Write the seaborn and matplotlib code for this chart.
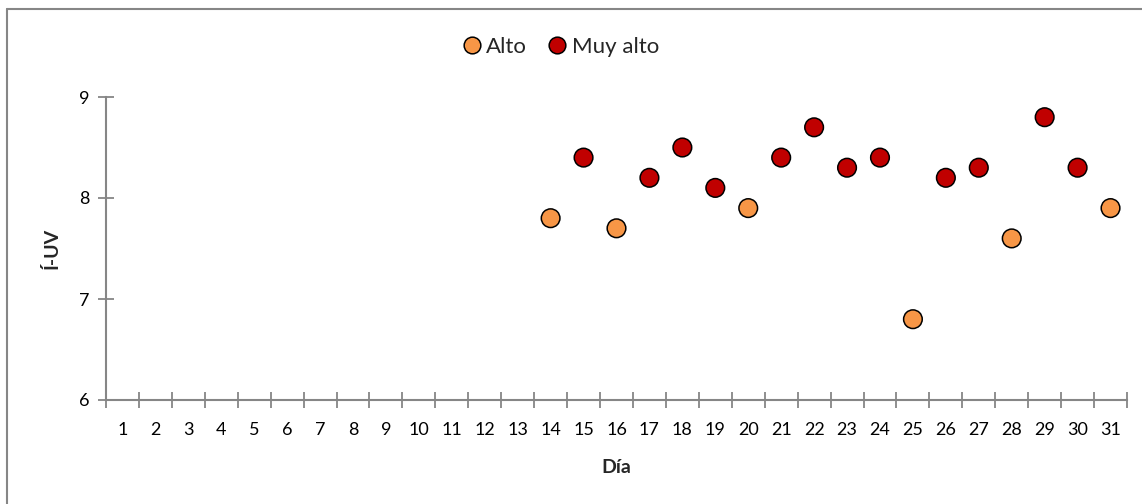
import numpy as np
import pandas as pd
import matplotlib
matplotlib.use("Agg")
import matplotlib.pyplot as plt
import seaborn as sns
from matplotlib.lines import Line2D

# datos: índice UV por día
dias = [14, 15, 16, 17, 18, 19, 20, 21, 22, 23, 24, 25, 26, 27, 28, 29, 30, 31]
iuv = [7.8, 8.4, 7.7, 8.2, 8.5, 8.1, 7.9, 8.4, 8.7, 8.3, 8.4, 6.8, 8.2, 8.3, 7.6, 8.8, 8.3, 7.9]
nivel = ["Alto", "Muy alto", "Alto", "Muy alto", "Muy alto", "Muy alto", "Alto", "Muy alto",
         "Muy alto", "Muy alto", "Muy alto", "Alto", "Muy alto", "Muy alto", "Alto",
         "Muy alto", "Muy alto", "Alto"]
todos_dias = list(range(1, 32))
yticks = [6, 7, 8, 9]

PALETTE = {"Alto": "#F79646", "Muy alto": "#C00000"}
GRIS = "#868686"

df = pd.DataFrame({"Día": dias, "IUV": iuv, "Nivel": nivel})

sns.set_style("white")
plt.rcParams["font.family"] = ["Lato", "DejaVu Sans"]
plt.rcParams["font.size"] = 13

fig = plt.figure(figsize=(11.42, 5.04), dpi=100)
ax = fig.add_axes([106/1142, 104/504, (1127-106)/1142, (400-97)/504])

sns.scatterplot(data=df, x="Día", y="IUV", hue="Nivel", palette=PALETTE,
                hue_order=["Alto", "Muy alto"], s=180, edgecolor="black",
                linewidth=1.1, legend=False, ax=ax, zorder=3, clip_on=False)

ax.set_xlim(0.5, 31.5)
ax.set_ylim(6, 9)
ax.set_xticks(todos_dias)
ax.set_xticklabels([str(d) for d in todos_dias])
ax.set_xticks(np.arange(0.5, 32, 1), minor=True)
ax.set_yticks(yticks)
ax.tick_params(axis="x", which="major", bottom=True, length=0, pad=16, colors="black")
ax.tick_params(axis="x", which="minor", bottom=True, length=12, width=1.3,
               direction="inout", color=GRIS)
ax.tick_params(axis="y", which="major", left=True, length=12, width=1.3, direction="inout",
               color=GRIS, labelcolor="black", pad=6)

for s in ["top", "right"]:
    ax.spines[s].set_visible(False)
for s in ["left", "bottom"]:
    ax.spines[s].set_color(GRIS)
    ax.spines[s].set_linewidth(1.5)

ax.set_xlabel("Día", fontweight="bold", fontsize=14, labelpad=15)
ax.set_ylabel("Í-UV", fontweight="bold", fontsize=14, labelpad=13)

handles = [Line2D([], [], marker="o", linestyle="", markersize=12, markerfacecolor=PALETTE[k],
                  markeredgecolor="black", markeredgewidth=1.1, label=k) for k in ["Alto", "Muy alto"]]
fig.legend(handles=handles, loc="center", bbox_to_anchor=(557/1142, 1 - 47/504), ncol=2,
           frameon=False, handletextpad=-0.1, handlelength=1.5, columnspacing=0.6, fontsize=16)

# borde del área del gráfico
fig.add_artist(Line2D([7/1142, 7/1142], [0, 1 - 9/504], color=GRIS, lw=1.5))
fig.add_artist(Line2D([7/1142, 1], [1 - 9/504, 1 - 9/504], color=GRIS, lw=1.5))

fig.savefig("out.png", dpi=100)
